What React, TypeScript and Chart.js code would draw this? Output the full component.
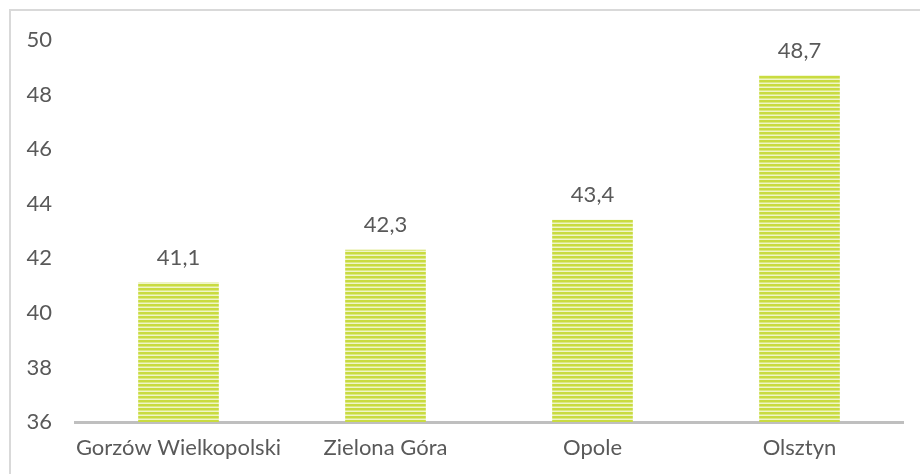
import React, { useEffect, useRef } from "react";
import { Chart, registerables } from "chart.js";

Chart.register(...registerables);

const categories = ["Gorzów Wielkopolski", "Zielona Góra", "Opole", "Olsztyn"];
const values = [41.1, 42.3, 43.4, 48.7];
const yMin = 36;
const yMax = 50;
const yStep = 2;

const FONT = "Lato, 'Open Sans', sans-serif";
const TEXT = "#595959";

function makePattern(): CanvasPattern | string {
  const c = document.createElement("canvas");
  c.width = 8;
  c.height = 4;
  const g = c.getContext("2d");
  if (!g) return "#c8da3c";
  g.fillStyle = "#c9db40";
  g.fillRect(0, 0, 8, 2);
  g.fillStyle = "#dce982";
  g.fillRect(0, 2, 8, 1);
  g.fillStyle = "#eff5c8";
  g.fillRect(0, 3, 8, 1);
  const p = g.createPattern(c, "repeat");
  return p || "#c8da3c";
}

const labelPlugin = {
  id: "valueLabels",
  afterDatasetsDraw(chart: any) {
    const ctx = chart.ctx;
    const meta = chart.getDatasetMeta(0);
    ctx.save();
    ctx.font = `22px ${FONT}`;
    ctx.fillStyle = TEXT;
    ctx.textAlign = "center";
    ctx.textBaseline = "middle";
    meta.data.forEach((bar: any, i: number) => {
      const txt = values[i].toFixed(1).replace(".", ",");
      ctx.fillText(txt, bar.x, bar.y - 25);
    });
    ctx.restore();
  },
};

export default function App() {
  const ref = useRef<HTMLCanvasElement>(null);
  useEffect(() => {
    if (!ref.current) return;
    const chart = new Chart(ref.current, {
      type: "bar",
      data: {
        labels: categories,
        datasets: [
          {
            data: values,
            backgroundColor: makePattern() as any,
            barThickness: 80,
            borderWidth: 0,
          },
        ],
      },
      options: {
        responsive: false,
        animation: false,
        events: [],
        layout: { padding: { left: 0, right: 17, top: 40, bottom: 0 } },
        plugins: { legend: { display: false }, tooltip: { enabled: false } },
        scales: {
          x: {
            grid: { display: false, drawTicks: false },
            border: { display: true, color: "#bfbfbf", width: 3 },
            ticks: {
              color: TEXT,
              font: { family: FONT, size: 22 },
              padding: 13,
              maxRotation: 0,
              autoSkip: false,
            },
            afterFit: (s: any) => {
              s.height = 52;
            },
          },
          y: {
            min: yMin,
            max: yMax,
            grid: { display: false, drawTicks: false },
            border: { display: false },
            ticks: {
              stepSize: yStep,
              color: TEXT,
              font: { family: FONT, size: 22 },
              padding: 23,
            },
            afterFit: (s: any) => {
              s.width = 75;
            },
          },
        },
      },
      plugins: [labelPlugin],
    });
    return () => chart.destroy();
  }, []);
  return (
    <div>
      <div
        style={{
          position: "fixed",
          left: 9,
          top: 9,
          width: 930,
          height: 500,
          border: "2px solid #d9d9d9",
          boxSizing: "border-box",
        }}
      />
      <canvas
        ref={ref}
        width={920}
        height={474}
        style={{ position: "fixed", left: 0, top: 0, width: 920, height: 474 }}
      />
    </div>
  );
}
